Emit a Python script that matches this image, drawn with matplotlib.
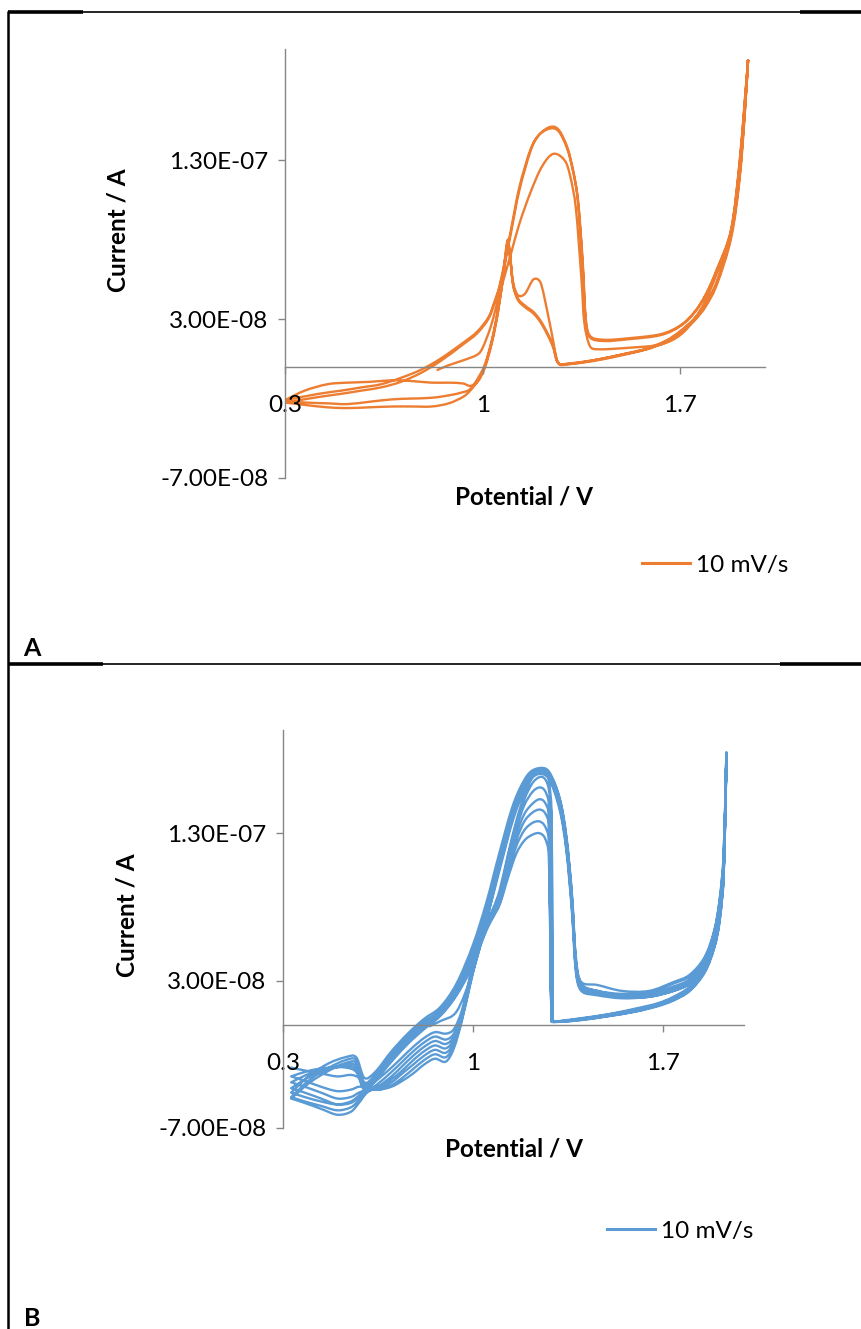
import numpy as np
import matplotlib
matplotlib.use("Agg")
import matplotlib.pyplot as plt
from matplotlib.lines import Line2D
from matplotlib.path import Path
from matplotlib.patches import PathPatch
from matplotlib.ticker import FuncFormatter

plt.rcParams['font.family'] = ['Lato', 'DejaVu Sans']

# ---------------- data (potential in V, current in units of 1e-8 A) ----------------
CURRENT_UNIT = 1e-8

x_ticks = [0.3, 1.0, 1.7]
y_ticks = [-7e-8, 3e-8, 1.3e-7]
x_limits = (0.3, 2.0)
y_limits = (-7e-8, 2.0e-7)
legend_label = "10 mV/s"

# Panel A - first forward sweep (starts at open circuit)
a_f1_v = [0.84, 0.88, 0.93, 0.98, 1.00, 1.03, 1.06, 1.10, 1.13, 1.17, 1.21, 1.25, 1.29, 1.31, 1.33,
          1.35, 1.36, 1.38, 1.41, 1.52, 1.63, 1.70, 1.75, 1.79, 1.83, 1.88, 1.91, 1.93, 1.94]
a_f1_i = [-0.2, 0.1, 0.4, 0.75, 1.2, 2.6, 4.6, 7.1, 9.0, 11.0, 12.6, 13.4, 13.0, 12.0, 10.0,
          5.5, 2.8, 1.3, 1.1, 1.2, 1.4, 2.0, 3.0, 4.2, 5.9, 8.4, 12.6, 16.9, 19.3]

# Panel A - full forward sweeps
a_fwd_v = [0.30, 0.42, 0.50, 0.57, 0.64, 0.71, 0.78, 0.85, 0.93, 0.98, 1.02, 1.04, 1.06, 1.08, 1.10,
           1.13, 1.17, 1.20, 1.24, 1.27, 1.30, 1.32, 1.335, 1.345, 1.355, 1.365, 1.38, 1.43, 1.52,
           1.63, 1.70, 1.75, 1.79, 1.83, 1.88, 1.91, 1.93, 1.94]
a_f2_i = [-2.1, -1.7, -1.5, -1.3, -1.1, -0.7, -0.2, 0.5, 1.5, 2.2, 3.1, 4.0, 5.1, 6.8, 8.6,
          11.3, 13.7, 14.6, 15.0, 14.8, 13.7, 12.3, 10.8, 8.8, 6.2, 2.9, 1.85, 1.62, 1.74,
          1.99, 2.56, 3.4, 4.5, 6.1, 8.6, 12.8, 17.0, 19.3]
a_f3_i = [-2.25, -1.9, -1.7, -1.5, -1.3, -0.95, -0.4, 0.35, 1.4, 2.1, 3.0, 3.9, 5.0, 6.6, 8.4,
          11.1, 13.6, 14.6, 15.1, 14.9, 13.8, 12.4, 10.9, 9.0, 6.4, 3.1, 1.95, 1.7, 1.8,
          2.05, 2.6, 3.45, 4.55, 6.15, 8.65, 12.9, 17.1, 19.3]

# Panel A - reverse sweeps
a_rev_v = [1.94, 1.93, 1.91, 1.88, 1.83, 1.79, 1.75, 1.70, 1.65, 1.58, 1.50, 1.42, 1.35, 1.30,
           1.275, 1.262, 1.25, 1.23, 1.205, 1.18, 1.15, 1.125, 1.108, 1.098, 1.09, 1.083, 1.073,
           1.055, 1.034, 1.009, 0.984, 0.956, 0.93, 0.88, 0.82, 0.75, 0.68, 0.60, 0.52, 0.45,
           0.37, 0.30]
a_r1_i = [19.3, 16.3, 11.8, 8.1, 5.2, 3.8, 2.9, 2.1, 1.55, 1.1, 0.8, 0.5, 0.3, 0.2,
          0.15, 0.5, 1.6, 3.4, 5.3, 5.5, 4.6, 4.5, 5.3, 6.7, 7.6, 7.1, 5.7,
          3.5, 1.6, 0.0, -0.9, -1.2, -1.05, -1.0, -1.0, -0.9, -0.85, -0.95, -1.0, -1.1,
          -1.5, -2.1]
a_r2_i = [19.3, 16.5, 12.0, 8.3, 5.3, 3.9, 3.0, 2.2, 1.6, 1.1, 0.75, 0.45, 0.25, 0.15,
          0.12, 0.4, 1.2, 2.0, 2.8, 3.35, 3.75, 4.2, 5.1, 6.8, 7.9, 7.3, 5.8,
          3.6, 1.7, 0.1, -0.85, -1.5, -1.9, -2.3, -2.5, -2.5, -2.5, -2.55, -2.6, -2.55,
          -2.4, -2.25]
a_r3_i = [19.3, 16.6, 12.1, 8.4, 5.4, 4.0, 3.05, 2.25, 1.65, 1.15, 0.8, 0.5, 0.28, 0.17,
          0.14, 0.45, 1.3, 2.1, 2.9, 3.45, 3.85, 4.3, 5.2, 6.9, 8.0, 7.4, 5.9,
          3.7, 1.8, 0.2, -0.7, -1.4, -1.6, -1.8, -1.95, -2.0, -2.05, -2.2, -2.35, -2.3,
          -2.25, -2.15]

# Panel B - first forward sweep
b_f1_v = [0.84, 0.88, 0.94, 1.00, 1.05, 1.10, 1.15, 1.20, 1.24, 1.28, 1.32, 1.345, 1.365, 1.38,
          1.40, 1.46, 1.55, 1.65, 1.74, 1.80, 1.855, 1.89, 1.91, 1.925, 1.935]
b_f1_i = [-0.1, 0.25, 0.9, 3.6, 7.0, 10.9, 14.3, 16.6, 17.3, 17.1, 15.3, 12.6, 8.7, 4.3,
          2.9, 2.7, 2.3, 2.3, 2.9, 3.4, 4.6, 6.4, 8.5, 11.6, 18.5]

# Panel B - full forward sweeps
b_fwd_v = [0.33, 0.40, 0.47, 0.53, 0.57, 0.60, 0.64, 0.70, 0.76, 0.82, 0.88, 0.94, 1.00, 1.05,
           1.10, 1.15, 1.20, 1.24, 1.28, 1.32, 1.345, 1.365, 1.38, 1.40, 1.46, 1.55, 1.65, 1.74,
           1.80, 1.855, 1.89, 1.91, 1.925, 1.935]
b_f2_i = [-4.6, -3.4, -2.6, -2.2, -2.2, -3.6, -3.2, -1.8, -0.6, 0.4, 1.2, 2.8, 5.4, 8.3,
          11.8, 15.0, 16.9, 17.4, 17.2, 15.4, 12.8, 9.0, 4.6, 2.8, 2.3, 2.1, 2.2, 2.8,
          3.3, 4.5, 6.3, 8.4, 11.5, 18.4]
b_f3_i = [-4.9, -3.7, -2.9, -2.4, -2.4, -3.9, -3.4, -2.0, -0.8, 0.2, 1.0, 2.5, 5.0, 8.0,
          11.5, 14.8, 16.8, 17.3, 17.1, 15.3, 12.6, 8.8, 4.4, 2.7, 2.3, 2.0, 2.1, 2.6,
          3.1, 4.3, 6.1, 8.2, 11.2, 18.3]
b_f4_i = [-5.0, -3.9, -3.1, -2.6, -2.6, -4.1, -3.5, -2.2, -1.0, 0.0, 0.9, 2.3, 4.7, 7.7,
          11.2, 14.6, 16.7, 17.3, 17.0, 15.1, 12.4, 8.5, 4.2, 2.6, 2.2, 2.0, 2.0, 2.5,
          3.0, 4.1, 5.9, 8.0, 11.0, 18.2]
b_f5_i = [-4.3, -3.5, -3.0, -2.7, -2.8, -4.2, -3.6, -2.3, -1.1, -0.1, 0.8, 2.2, 4.5, 7.5,
          11.0, 14.4, 16.6, 17.2, 16.9, 15.0, 12.2, 8.3, 4.0, 2.5, 2.1, 1.9, 2.0, 2.4,
          2.9, 4.0, 5.7, 7.8, 10.8, 18.1]
b_f6_i = [-3.9, -3.3, -3.0, -2.8, -3.0, -4.3, -3.7, -2.4, -1.2, -0.2, 0.7, 2.1, 4.3, 7.3,
          10.8, 14.2, 16.4, 17.1, 16.8, 14.8, 12.0, 8.0, 3.8, 2.4, 2.1, 1.9, 1.9, 2.3,
          2.8, 3.9, 5.6, 7.6, 10.5, 18.0]
b_f7_i = [-3.5, -3.1, -2.9, -2.9, -3.2, -4.4, -3.8, -2.5, -1.3, -0.3, 0.6, 2.0, 4.1, 7.1,
          10.6, 14.0, 16.3, 17.0, 16.7, 14.6, 11.8, 7.8, 3.6, 2.3, 2.0, 1.8, 1.9, 2.3,
          2.8, 3.8, 5.5, 7.5, 10.3, 17.9]

# Panel B - reverse sweeps
b_rev_v = [1.935, 1.925, 1.91, 1.89, 1.855, 1.80, 1.74, 1.68, 1.60, 1.50, 1.40, 1.33, 1.30,
           1.295, 1.29, 1.28, 1.265, 1.245, 1.22, 1.19, 1.16, 1.13, 1.10, 1.075, 1.05, 1.02,
           0.99, 0.96, 0.93, 0.90, 0.86, 0.82, 0.78, 0.74, 0.70, 0.65, 0.61, 0.58, 0.55, 0.50,
           0.44, 0.38, 0.33]
b_r1_i = [18.5, 10.8, 7.6, 5.7, 3.9, 2.6, 1.9, 1.45, 1.1, 0.72, 0.45, 0.28, 0.22,
          0.5, 14.5, 16.6, 17.2, 17.3, 16.8, 15.6, 13.8, 11.6, 9.2, 7.9, 7.0, 5.5,
          3.3, 1.0, -0.3, -0.6, -0.5, -0.9, -1.5, -2.2, -2.9, -3.7, -4.3, -4.8, -5.2, -5.4,
          -5.2, -4.9, -4.6]
b_r2_i = [18.4, 10.6, 7.5, 5.6, 3.8, 2.5, 1.85, 1.4, 1.05, 0.7, 0.42, 0.26, 0.2,
          0.4, 13.8, 16.0, 16.7, 16.8, 16.4, 15.3, 13.6, 11.4, 9.0, 7.8, 6.9, 5.4,
          3.2, 0.8, -0.6, -1.0, -0.8, -1.2, -1.8, -2.5, -3.2, -4.0, -4.5, -5.1, -5.6, -5.8,
          -5.5, -5.2, -4.9]
b_r3_i = [18.3, 10.5, 7.4, 5.5, 3.75, 2.45, 1.8, 1.4, 1.0, 0.68, 0.4, 0.25, 0.2,
          0.22, 0.3, 15.0, 15.9, 16.1, 15.8, 14.9, 13.3, 11.2, 8.9, 7.7, 6.8, 5.3,
          3.1, 0.7, -0.8, -1.3, -1.1, -1.5, -2.1, -2.8, -3.5, -4.2, -4.6, -5.3, -5.9, -6.1,
          -5.7, -5.3, -5.0]
b_r4_i = [18.2, 10.4, 7.3, 5.4, 3.7, 2.4, 1.75, 1.35, 0.95, 0.65, 0.38, 0.24, 0.2,
          0.2, 0.28, 14.3, 15.1, 15.3, 15.0, 14.3, 12.9, 10.9, 8.7, 7.6, 6.7, 5.2,
          3.0, 0.6, -1.0, -1.6, -1.4, -1.8, -2.4, -3.1, -3.7, -4.3, -4.5, -4.9, -5.3, -5.4,
          -5.0, -4.6, -4.3]
b_r5_i = [18.1, 10.3, 7.2, 5.3, 3.65, 2.4, 1.7, 1.3, 0.95, 0.62, 0.36, 0.23, 0.2,
          0.2, 0.26, 13.6, 14.4, 14.6, 14.4, 13.8, 12.5, 10.6, 8.5, 7.5, 6.6, 5.1,
          2.9, 0.5, -1.2, -1.9, -1.7, -2.1, -2.7, -3.3, -3.9, -4.3, -4.4, -4.6, -4.9, -5.0,
          -4.6, -4.2, -3.9]
b_r6_i = [18.0, 10.2, 7.1, 5.25, 3.6, 2.35, 1.7, 1.3, 0.9, 0.6, 0.34, 0.22, 0.2,
          0.2, 0.25, 12.6, 13.5, 13.8, 13.7, 13.2, 12.1, 10.3, 8.3, 7.4, 6.5, 5.0,
          2.8, 0.4, -1.4, -2.2, -2.0, -2.4, -3.0, -3.6, -4.1, -4.4, -4.3, -4.2, -4.4, -4.5,
          -4.2, -3.8, -3.5]
b_r7_i = [17.9, 10.1, 7.0, 5.2, 3.55, 2.3, 1.65, 1.25, 0.9, 0.58, 0.32, 0.21, 0.2,
          0.2, 0.24, 11.6, 12.7, 13.0, 12.9, 12.5, 11.6, 10.0, 8.2, 7.3, 6.4, 4.9,
          2.7, 0.3, -1.6, -2.5, -2.3, -2.7, -3.3, -3.8, -4.2, -4.4, -4.2, -3.6, -3.4, -3.5,
          -3.3, -3.1, -2.9]

ORANGE = "#ED7D31"
BLUE = "#5B9BD5"
AXIS_GRAY = "#868686"

# ---------------- figure / layout helpers ----------------
W, H = 862, 1329
fig = plt.figure(figsize=(W / 100, H / 100), dpi=100)
FS = 17.5


def px_axes(x0, x1, y_top, y_bot):
    return fig.add_axes([x0 / W, 1 - y_bot / H, (x1 - x0) / W, (y_bot - y_top) / H])


def hline(y, x0, x1, lw):
    fig.add_artist(Line2D([x0 / W, x1 / W], [1 - y / H, 1 - y / H],
                          transform=fig.transFigure, color="black", lw=lw,
                          solid_capstyle="butt"))


def vline(x, y0, y1, lw):
    fig.add_artist(Line2D([x / W, x / W], [1 - y0 / H, 1 - y1 / H],
                          transform=fig.transFigure, color="black", lw=lw,
                          solid_capstyle="butt"))


def sweep(segments):
    v = np.concatenate([np.asarray(s[0], float) for s in segments])
    i = np.concatenate([np.asarray(s[1], float) for s in segments]) * CURRENT_UNIT
    return v, i


def smoothed_line(ax, v, i, color, lw):
    """Draw the sweep as a smoothed (Bezier) line through the recorded points."""
    pts = ax.transData.transform(np.column_stack([v, i]))
    n = len(pts)
    verts = [pts[0]]
    codes = [Path.MOVETO]
    tang = np.zeros_like(pts)
    for k in range(n):
        a = pts[max(k - 1, 0)]
        b = pts[min(k + 1, n - 1)]
        tang[k] = (b - a) / 2.0
    for k in range(n - 1):
        p0, p1 = pts[k], pts[k + 1]
        seg = np.hypot(*(p1 - p0))
        h0 = tang[k] / 3.0
        h1 = tang[k + 1] / 3.0
        lim = 0.45 * seg
        n0, n1 = np.hypot(*h0), np.hypot(*h1)
        if n0 > lim and n0 > 0:
            h0 = h0 * lim / n0
        if n1 > lim and n1 > 0:
            h1 = h1 * lim / n1
        verts += [p0 + h0, p1 - h1, p1]
        codes += [Path.CURVE4] * 3
    data_verts = ax.transData.inverted().transform(np.array(verts))
    patch = PathPatch(Path(data_verts, codes), facecolor="none", edgecolor=color,
                      lw=lw, joinstyle="round", capstyle="round",
                      transform=ax.transData)
    ax.add_patch(patch)


def style_axes(ax):
    ax.set_xlim(*x_limits)
    ax.set_ylim(*y_limits)
    for side in ("top", "right"):
        ax.spines[side].set_visible(False)
    ax.spines["left"].set_color(AXIS_GRAY)
    ax.spines["bottom"].set_color(AXIS_GRAY)
    ax.spines["left"].set_linewidth(1.0)
    ax.spines["bottom"].set_linewidth(1.0)
    ax.spines["bottom"].set_position(("data", 0))
    ax.set_xticks(x_ticks)
    ax.set_yticks(y_ticks)
    ax.xaxis.set_major_formatter(FuncFormatter(lambda v, p: f"{v:g}"))
    ax.yaxis.set_major_formatter(FuncFormatter(lambda v, p: f"{v:.2E}"))
    ax.tick_params(axis="x", direction="out", length=5, width=1, color=AXIS_GRAY,
                   labelsize=FS, pad=15, labelcolor="black")
    ax.tick_params(axis="y", direction="out", length=5, width=1, color=AXIS_GRAY,
                   labelsize=FS, pad=7, labelcolor="black")
    ax.patch.set_alpha(0)


def draw_panel(ax, v, i, color, ylab_xy, xlab_xy, leg_xy):
    style_axes(ax)
    smoothed_line(ax, v, i, color, 1.7)
    fig.text(ylab_xy[0] / W, 1 - ylab_xy[1] / H, "Current / A", rotation=90,
             ha="center", va="center", fontsize=FS, fontweight="bold")
    fig.text(xlab_xy[0] / W, 1 - xlab_xy[1] / H, "Potential / V",
             ha="center", va="center", fontsize=FS, fontweight="bold")
    handle = Line2D([], [], color=color, lw=2.2)
    fs_px = FS * 100 / 72
    ax.legend([handle], [legend_label], loc="center left",
              bbox_to_anchor=(leg_xy[0] / W, 1 - leg_xy[1] / H),
              bbox_transform=fig.transFigure, frameon=False, fontsize=FS,
              handlelength=48 / fs_px, handletextpad=6 / fs_px,
              borderpad=0, borderaxespad=0)


# ---------------- panel A ----------------
axA = px_axes(285, 765, 49, 478)
vA, iA = sweep([(a_f1_v, a_f1_i), (a_rev_v, a_r1_i),
                (a_fwd_v, a_f2_i), (a_rev_v, a_r2_i),
                (a_fwd_v, a_f3_i), (a_rev_v, a_r3_i)])
draw_panel(axA, vA, iA, ORANGE, (118, 230), (524, 497), (642, 565))

# ---------------- panel B ----------------
axB = px_axes(283, 744, 730, 1128)
vB, iB = sweep([(b_f1_v, b_f1_i), (b_rev_v, b_r1_i),
                (b_fwd_v, b_f2_i), (b_rev_v, b_r2_i),
                (b_fwd_v, b_f3_i), (b_rev_v, b_r3_i),
                (b_fwd_v, b_f4_i), (b_rev_v, b_r4_i),
                (b_fwd_v, b_f5_i), (b_rev_v, b_r5_i),
                (b_fwd_v, b_f6_i), (b_rev_v, b_r6_i),
                (b_fwd_v, b_f7_i), (b_rev_v, b_r7_i)])
draw_panel(axB, vB, iB, BLUE, (127, 915), (514, 1149), (607, 1231))

# ---------------- table borders and panel letters ----------------
vline(8, 11, H, 1.8)
hline(12, 8, 83, 2.6)
hline(12, 83, 800, 1.2)
hline(12, 800, W, 2.6)
hline(664, 8, 103, 2.6)
hline(664, 103, 780, 1.2)
hline(664, 780, W, 2.6)
fig.text(32 / W, 1 - 648 / H, "A", ha="center", va="center", fontsize=18, fontweight="bold")
fig.text(32 / W, 1 - 1318 / H, "B", ha="center", va="center", fontsize=18, fontweight="bold")

fig.savefig("out.png", dpi=100)
